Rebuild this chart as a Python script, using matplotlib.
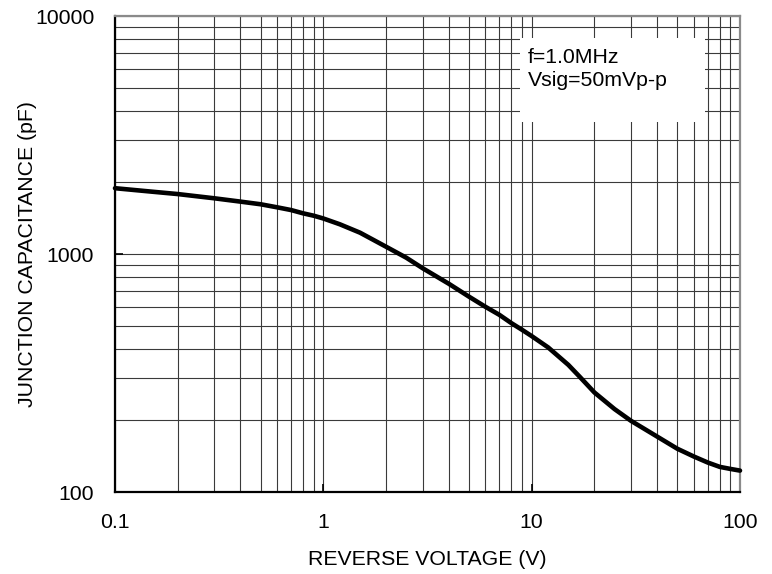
import matplotlib
matplotlib.use("Agg")
import matplotlib.pyplot as plt
from matplotlib.patches import Rectangle
from matplotlib.ticker import LogLocator, FixedLocator, NullFormatter

plt.rcParams['font.family'] = ['Liberation Sans', 'DejaVu Sans']

voltage = [0.1, 0.15, 0.2, 0.3, 0.4, 0.5, 0.6, 0.7, 0.8, 0.9, 1.0, 1.2, 1.5, 2, 2.5, 3,
           4, 5, 6, 7, 8, 9, 10, 12, 15, 17, 20, 25, 30, 40, 50, 60, 70, 80, 90, 100]
capacitance = [1890, 1828, 1786, 1714, 1660, 1618, 1571, 1530, 1482, 1448, 1410, 1333,
               1229, 1073, 965, 871, 750, 662, 600, 555, 512, 480, 452, 405, 342, 305,
               262, 223, 199, 171, 152, 141, 133, 127.5, 125, 123]
x_ticks = [0.1, 1, 10, 100]
x_ticklabels = ["0.1", "1", "10", "100"]
y_ticks = [100, 1000, 10000]
y_ticklabels = ["100", "1000", "10000"]
xlabel = "REVERSE VOLTAGE (V)"
ylabel = "JUNCTION CAPACITANCE (pF)"
note = "f=1.0MHz\nVsig=50mVp-p"

FS = 15.3

fig = plt.figure(figsize=(7.72, 5.74), dpi=100)
ax = fig.add_axes([115/772, 1-492/574, 625/772, 476/574])
ax.set_xscale('log')
ax.set_yscale('log')
ax.set_xlim(0.1, 100)
ax.set_ylim(100, 10000)

ax.xaxis.set_major_locator(FixedLocator(x_ticks))
ax.yaxis.set_major_locator(FixedLocator(y_ticks))
ax.set_xticklabels(x_ticklabels)
ax.set_yticklabels(y_ticklabels)
ax.xaxis.set_minor_locator(LogLocator(base=10, subs=range(2, 10)))
ax.yaxis.set_minor_locator(LogLocator(base=10, subs=range(2, 10)))
ax.xaxis.set_minor_formatter(NullFormatter())
ax.yaxis.set_minor_formatter(NullFormatter())

ax.grid(True, which='both', color='#3a3a3a', linewidth=0.8)
ax.set_axisbelow(True)
ax.tick_params(which='major', direction='in', length=6, width=1.2, color='black',
               labelsize=FS, pad=15)
ax.tick_params(which='minor', length=0)

for side in ['left', 'bottom']:
    ax.spines[side].set_color('black')
    ax.spines[side].set_linewidth(1.6)
for side in ['top', 'right']:
    ax.spines[side].set_color('#8a8a8a')
    ax.spines[side].set_linewidth(1.6)

ax.add_patch(Rectangle((0.648, 0.777), 0.296, 0.177, transform=ax.transAxes,
                       facecolor='white', edgecolor='none', zorder=1.5))
ax.text(0.661, 0.932, note, transform=ax.transAxes, fontsize=FS, va='top', ha='left',
        linespacing=1.22, zorder=3)

ax.plot(voltage, capacitance, color='black', linewidth=3.3, solid_joinstyle='round',
        solid_capstyle='round', zorder=4, clip_on=False)

ax.set_xlabel(xlabel, fontsize=FS)
ax.set_ylabel(ylabel, fontsize=FS)
ax.xaxis.set_label_coords(0.5, -0.122)
ax.yaxis.set_label_coords(-0.125, 0.5)

fig.savefig("out.png", dpi=100)
